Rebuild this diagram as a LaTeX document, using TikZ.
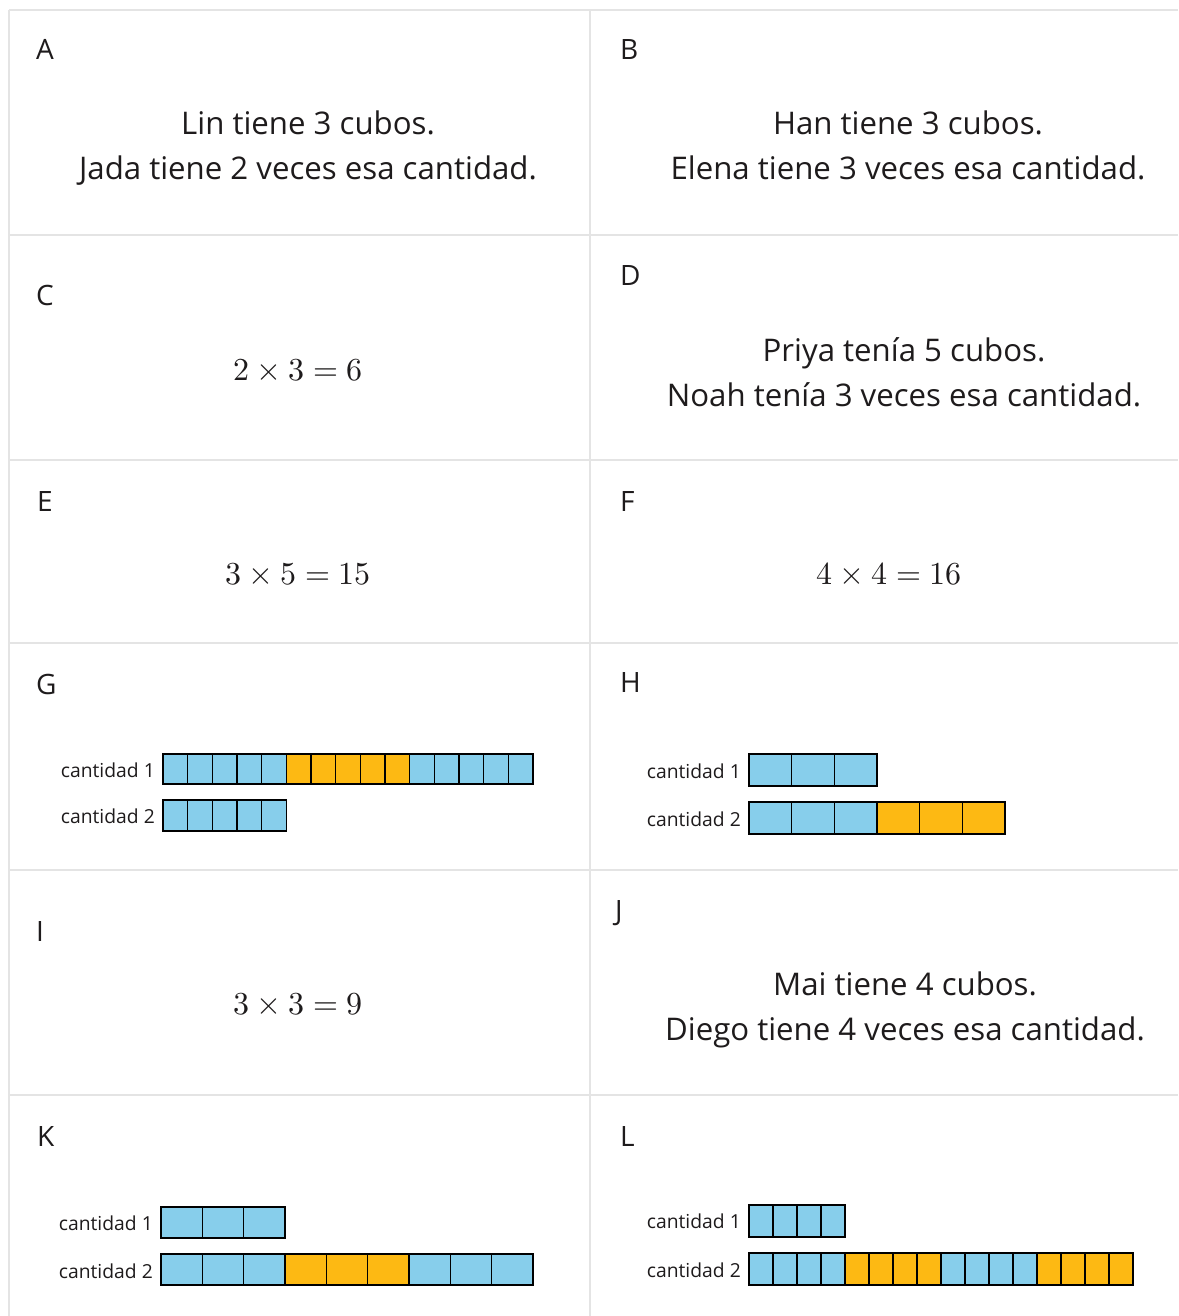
\documentclass[tikz,border=0pt]{standalone}
\usepackage{fontspec}
\usepackage{unicode-math}
\setmainfont{Open Sans}
\setmathfont{Latin Modern Math}
\definecolor{gridgray}{RGB}{228,228,228}
\definecolor{tblue}{RGB}{135,206,235}
\definecolor{torange}{RGB}{253,185,19}
\definecolor{ink}{RGB}{30,27,28}
\newcommand{\tapebar}[5]{% x0, ytop, ybot, cellwidth, colour list
  \foreach \c [count=\i from 0] in {#5} {
    \filldraw[fill=\c, draw=black, line width=1.6pt]
      ({#1+\i*#4},#2) rectangle ({#1+(\i+1)*#4},#3);
  }
}
\begin{document}
\begin{tikzpicture}[x=1pt,y=-1pt,
  gridline/.style={draw=gridgray, line width=1.6pt},
  letter/.style={anchor=base west, inner sep=0pt, text=ink, font=\fontsize{28}{32}\selectfont},
  prose/.style={anchor=base, inner sep=0pt, text=ink, font=\fontsize{31.2}{36}\selectfont},
  eqn/.style={anchor=base, inner sep=0pt, text=ink, font=\fontsize{32}{38}\selectfont},
  tapelabel/.style={anchor=base east, inner sep=0pt, text=ink, font=\fontsize{19.3}{22}\selectfont}]
\useasboundingbox (0,0) rectangle (1178,1316);
\fill[white] (0,0) rectangle (1178,1316);
% grid
\draw[gridline] (9,10) -- (9,1316);
\draw[gridline] (590,10) -- (590,1316);
\foreach \yy in {10,235,460,643,870,1095} {
  \draw[gridline] (9,\yy) -- (1178,\yy);
}
% letters
\node[letter] (lA) at (36,60) {A};
\node[letter] (lB) at (620,60) {B};
\node[letter] (lC) at (36,305) {C};
\node[letter] (lD) at (620,285) {D};
\node[letter] (lE) at (37,511) {E};
\node[letter] (lF) at (620,511) {F};
\node[letter] (lG) at (36,694) {G};
\node[letter] (lH) at (620,692) {H};
\node[letter] (lI) at (36,941) {I};
\node[letter] (lJ) at (615,920) {J};
\node[letter] (lK) at (37,1146) {K};
\node[letter] (lL) at (620,1146) {L};
% A
\node[prose] (a1) at (308,135) {Lin tiene 3 cubos.};
\node[prose] (a2) at (308,180) {Jada tiene 2 veces esa cantidad.};
% B
\node[prose] (b1) at (908,135) {Han tiene 3 cubos.};
\node[prose] (b2) at (908,180) {Elena tiene 3 veces esa cantidad.};
% C
\node[eqn] (c1) at (298,380) {$2\times3=6$};
% D
\node[prose] (d1) at (904,361) {Priya tenía 5 cubos.};
\node[prose] (d2) at (904,406) {Noah tenía 3 veces esa cantidad.};
% E, F
\node[eqn] (e1) at (298,584) {$3\times5=15$};
\node[eqn] (f1) at (889,584) {$4\times4=16$};
% G
\node[tapelabel] (g1) at (155,777) {cantidad 1};
\node[tapelabel] (g2) at (155,823) {cantidad 2};
\tapebar{163}{754}{784}{24.667}{tblue,tblue,tblue,tblue,tblue,torange,torange,torange,torange,torange,tblue,tblue,tblue,tblue,tblue}
\tapebar{163}{800}{831}{24.667}{tblue,tblue,tblue,tblue,tblue}
% H
\node[tapelabel] (h1) at (741,778) {cantidad 1};
\node[tapelabel] (h2) at (741,826) {cantidad 2};
\tapebar{749}{754}{786}{42.667}{tblue,tblue,tblue}
\tapebar{749}{802}{834}{42.667}{tblue,tblue,tblue,torange,torange,torange}
% I
\node[eqn] (i1) at (298,1014) {$3\times3=9$};
% J
\node[prose] (j1) at (905,995) {Mai tiene 4 cubos.};
\node[prose] (j2) at (905,1040) {Diego tiene 4 veces esa cantidad.};
% K
\node[tapelabel] (k1) at (153,1230) {cantidad 1};
\node[tapelabel] (k2) at (153,1278) {cantidad 2};
\tapebar{161}{1207}{1238}{41.333}{tblue,tblue,tblue}
\tapebar{161}{1254}{1285}{41.333}{tblue,tblue,tblue,torange,torange,torange,tblue,tblue,tblue}
% L
\node[tapelabel] (l1) at (741,1228) {cantidad 1};
\node[tapelabel] (l2) at (741,1277) {cantidad 2};
\tapebar{749}{1205}{1237}{24}{tblue,tblue,tblue,tblue}
\tapebar{749}{1253}{1285}{24}{tblue,tblue,tblue,tblue,torange,torange,torange,torange,tblue,tblue,tblue,tblue,torange,torange,torange,torange}
\end{tikzpicture}
\end{document}
